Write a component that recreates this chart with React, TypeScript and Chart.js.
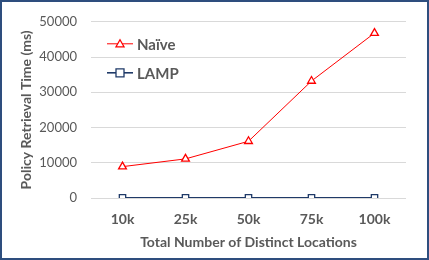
import React, { useEffect, useRef } from "react";
import { Chart, registerables } from "chart.js";

Chart.register(...registerables);

const categories = ["10k", "25k", "50k", "75k", "100k"];
const naiveValues = [8900, 11100, 16100, 33200, 46800];
const lampValues = [60, 60, 60, 60, 60];
const yTicks = [0, 10000, 20000, 30000, 40000, 50000];

const FONT = "Lato, 'Liberation Sans', sans-serif";
const TEXT = "#595959";

const frame = {
  id: "frame",
  beforeDraw(chart: any) {
    const { ctx, width, height } = chart;
    ctx.save();
    ctx.fillStyle = "#ffffff";
    ctx.fillRect(0, 0, width, height);
    ctx.restore();
  },
  afterDraw(chart: any) {
    const { ctx, width, height } = chart;
    ctx.save();
    ctx.strokeStyle = "#2E4E7E";
    ctx.lineWidth = 2;
    ctx.strokeRect(1, 1, width - 2, height - 2);
    ctx.restore();
  },
};

const innerLegend = {
  id: "innerLegend",
  afterDatasetsDraw(chart: any) {
    const { ctx, chartArea } = chart;
    const x0 = chartArea.left + 16;
    let y = chartArea.top + 22;
    ctx.save();
    chart.data.datasets.forEach((ds: any) => {
      ctx.strokeStyle = ds.borderColor;
      ctx.lineWidth = ds.borderWidth;
      ctx.beginPath();
      ctx.moveTo(x0, y);
      ctx.lineTo(x0 + 26, y);
      ctx.stroke();
      const cx = x0 + 13;
      ctx.fillStyle = "#ffffff";
      ctx.strokeStyle = ds.pointBorderColor;
      ctx.lineWidth = ds.pointBorderWidth;
      ctx.beginPath();
      if (ds.pointStyle === "triangle") {
        ctx.moveTo(cx, y - 4);
        ctx.lineTo(cx + 4, y + 3);
        ctx.lineTo(cx - 4, y + 3);
        ctx.closePath();
      } else {
        ctx.rect(cx - 4, y - 4, 8, 8);
      }
      ctx.fill();
      ctx.stroke();
      ctx.fillStyle = TEXT;
      ctx.font = `bold 15px ${FONT}`;
      ctx.textBaseline = "middle";
      ctx.textAlign = "left";
      ctx.fillText(ds.label, x0 + 30, y + 1);
      y += 29;
    });
    ctx.restore();
  },
};

export default function App() {
  const ref = useRef<HTMLCanvasElement>(null);
  useEffect(() => {
    document.body.style.margin = "0";
    const chart = new Chart(ref.current!, {
      type: "line",
      data: {
        labels: categories,
        datasets: [
          {
            label: "Naïve",
            data: naiveValues,
            borderColor: "#FF0000",
            borderWidth: 1,
            pointStyle: "triangle",
            pointRadius: 4.5,
            pointBackgroundColor: "#ffffff",
            pointBorderColor: "#FF0000",
            pointBorderWidth: 1.3,
            tension: 0,
          } as any,
          {
            label: "LAMP",
            data: lampValues,
            borderColor: "#1F3A68",
            borderWidth: 1.6,
            pointStyle: "rect",
            pointRadius: 4.5,
            pointBackgroundColor: "#ffffff",
            pointBorderColor: "#1F3A68",
            pointBorderWidth: 1.3,
            tension: 0,
          } as any,
        ],
      },
      options: {
        animation: false,
        responsive: false,
        maintainAspectRatio: false,
        layout: { padding: { left: 14, right: 23, top: 10, bottom: 4 } },
        plugins: { legend: { display: false }, tooltip: { enabled: false } },
        scales: {
          x: {
            offset: true,
            grid: { display: false, drawTicks: false },
            border: { display: false },
            ticks: {
              color: TEXT,
              font: { family: FONT, size: 14, weight: "bold" },
              padding: 13,
              maxRotation: 0,
            },
            title: {
              display: true,
              text: "Total Number of Distinct Locations",
              color: TEXT,
              font: { family: FONT, size: 14, weight: "bold" },
              padding: { top: 0, bottom: 5 },
            },
            afterFit(scale: any) {
              scale.height = 58;
            },
          },
          y: {
            min: 0,
            max: 50000,
            grid: { color: "#D9D9D9", drawTicks: false, lineWidth: 1 },
            border: { display: false },
            afterBuildTicks(scale: any) {
              scale.ticks = yTicks.map((v) => ({ value: v }));
            },
            ticks: {
              color: TEXT,
              font: { family: FONT, size: 13 },
              padding: 14,
              callback: (v: any) => String(v),
            },
            title: {
              display: true,
              text: "Policy Retrieval Time (ms)",
              color: TEXT,
              font: { family: FONT, size: 14, weight: "bold" },
              padding: { top: 4, bottom: 0 },
            },
            afterFit(scale: any) {
              scale.width = 77;
            },
          },
        },
      },
      plugins: [frame, innerLegend],
    });
    return () => chart.destroy();
  }, []);
  return (
    <div style={{ position: "absolute", left: 0, top: 0, width: 429, height: 260 }}>
      <canvas ref={ref} width={429} height={260} style={{ display: "block" }} />
    </div>
  );
}
